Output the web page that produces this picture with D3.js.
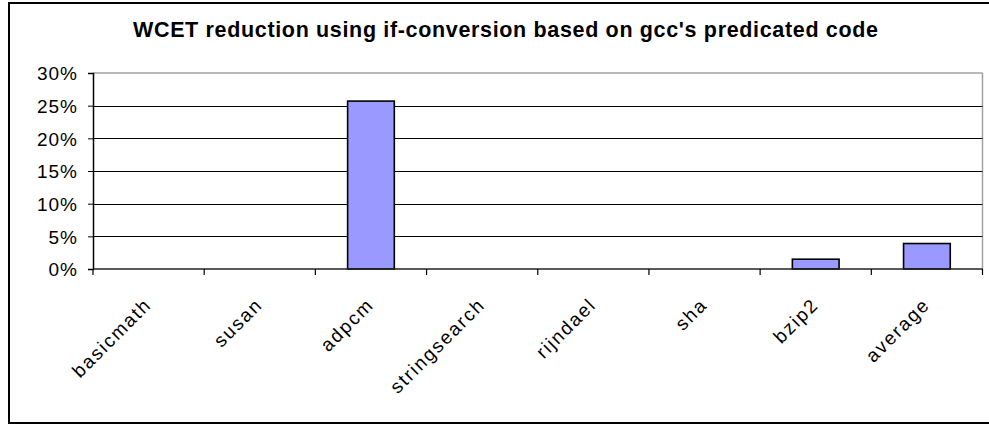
<!DOCTYPE html>
<html>
<head>
<meta charset="utf-8">
<script src="https://cdn.jsdelivr.net/npm/d3@7/dist/d3.min.js"></script>
<style>
  html, body { margin: 0; padding: 0; background: #fff; }
  svg { display: block; }
  text { font-family: Arial, "Liberation Sans", sans-serif; fill: #000; }
</style>
</head>
<body>
<svg id="chart" width="989" height="425"></svg>
<script>
// Benchmarks and their WCET reduction (fraction)
const categories = ["basicmath", "susan", "adpcm", "stringsearch", "rijndael", "sha", "bzip2", "average"];
const reduction = [0, 0, 0.257, 0, 0, 0, 0.015, 0.039];
const yTicks = [0, 0.05, 0.10, 0.15, 0.20, 0.25, 0.30];
const title = "WCET reduction using if-conversion based on gcc's predicated code";

const svg = d3.select("#chart");
const plot = { left: 93, right: 982.5, top: 73, bottom: 269 };

// Outer chart frame (right edge runs off the canvas)
svg.append("rect")
  .attr("x", 9).attr("y", 3)
  .attr("width", 990).attr("height", 420)
  .attr("fill", "#fff").attr("stroke", "#000").attr("stroke-width", 2);

// Title
svg.append("text")
  .attr("x", 505.5).attr("y", 37)
  .attr("text-anchor", "middle")
  .attr("font-size", 21.5).attr("font-weight", "bold")
  .attr("textLength", 745).attr("lengthAdjust", "spacing")
  .text(title);

const x = d3.scaleBand().domain(categories).range([plot.left, plot.right]).padding(0);
const y = d3.scaleLinear().domain([0, 0.30]).range([plot.bottom, plot.top]);

// Plot area frame: light top and right edges
svg.append("line")
  .attr("x1", plot.left).attr("x2", plot.right)
  .attr("y1", y(0.30)).attr("y2", y(0.30))
  .attr("stroke", "#a0a0a0").attr("stroke-width", 1.5);
svg.append("line")
  .attr("x1", plot.right).attr("x2", plot.right)
  .attr("y1", plot.top).attr("y2", plot.bottom)
  .attr("stroke", "#a0a0a0").attr("stroke-width", 1.5);

// Horizontal gridlines
svg.append("g")
  .selectAll("line")
  .data(yTicks.filter(t => t > 0 && t < 0.30))
  .join("line")
  .attr("x1", plot.left).attr("x2", plot.right)
  .attr("y1", d => Math.round(y(d)) + 0.5).attr("y2", d => Math.round(y(d)) + 0.5)
  .attr("stroke", "#000").attr("stroke-width", 1);

// Bars
const barW = x.bandwidth() * 0.42;
svg.append("g")
  .selectAll("rect")
  .data(categories.map((c, i) => ({ c, v: reduction[i] })).filter(d => d.v > 0))
  .join("rect")
  .attr("x", d => x(d.c) + (x.bandwidth() - barW) / 2)
  .attr("y", d => y(d.v))
  .attr("width", barW)
  .attr("height", d => y(0) - y(d.v))
  .attr("fill", "#9999ff")
  .attr("stroke", "#000").attr("stroke-width", 1.6);

// Y axis
const yAxis = d3.axisLeft(y)
  .tickValues(yTicks)
  .tickFormat(d3.format(".0%"))
  .tickSize(5)
  .tickPadding(10);
const gy = svg.append("g").attr("transform", `translate(${plot.left},0)`).call(yAxis);
gy.select(".domain").attr("stroke", "#000").attr("stroke-width", 1.5);
gy.selectAll(".tick line").attr("stroke", "#000");
gy.selectAll(".tick text")
  .attr("font-size", 19)
  .attr("letter-spacing", 1)
  .attr("font-family", "Arial, 'Liberation Sans', sans-serif")
  .attr("fill", "#000")
  .attr("dy", "0.36em");

// X axis: ticks at category boundaries
const gx = svg.append("g").attr("transform", `translate(0,${plot.bottom})`);
gx.append("line")
  .attr("x1", plot.left).attr("x2", plot.right)
  .attr("y1", 0).attr("y2", 0)
  .attr("stroke", "#222").attr("stroke-width", 1.5);
const bounds = categories.map(c => x(c)).concat([plot.right]);
gx.selectAll("line.tick")
  .data(bounds)
  .join("line")
  .attr("class", "tick")
  .attr("x1", d => d).attr("x2", d => d)
  .attr("y1", 0).attr("y2", 6)
  .attr("stroke", "#000").attr("stroke-width", 1.2);

// Rotated category labels
gx.selectAll("text.cat")
  .data(categories)
  .join("text")
  .attr("class", "cat")
  .attr("text-anchor", "end")
  .attr("font-size", 19)
  .attr("letter-spacing", 1.8)
  .attr("transform", d => `translate(${x(d) + x.bandwidth() / 2 + 4},${37}) rotate(-45)`)
  .text(d => d);
</script>
</body>
</html>
